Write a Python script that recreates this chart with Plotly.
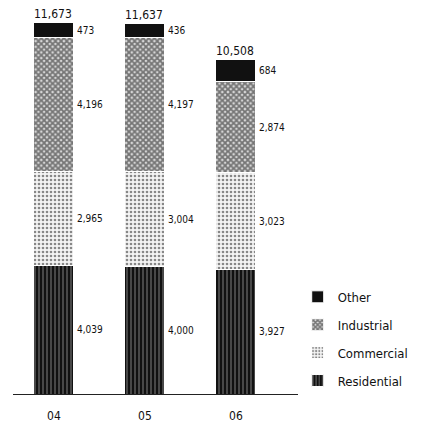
import plotly.graph_objects as go

# Sales by sector, years 04-06
years = ["04", "05", "06"]
residential = [4039, 4000, 3927]
commercial = [2965, 3004, 3023]
industrial = [4196, 4197, 2874]
other = [473, 436, 684]
totals = [11673, 11637, 10508]

FONT = "DejaVu Sans Condensed, Liberation Sans Narrow, Arial Narrow, sans-serif"
BAR_W = 0.44
xs = list(range(len(years)))

# (name, values, marker, legend rank) - stacked bottom to top, legend top to bottom
series = [
    ("Residential", residential,
     dict(color="#1a1a1a", pattern=dict(shape="|", fgcolor="#c8c8c8", bgcolor="#111111", size=4, solidity=0.3)), 4),
    ("Commercial", commercial,
     dict(color="#f0f0f0", pattern=dict(shape=".", fgcolor="#1a1a1a", bgcolor="#f4f4f4", size=4, solidity=0.35)), 3),
    ("Industrial", industrial,
     dict(color="#777777", pattern=dict(shape="x", fgcolor="#111111", bgcolor="#d8d8d8", size=4, solidity=0.7)), 2),
    ("Other", other,
     dict(color="#111111"), 1),
]

fig = go.Figure()
for name, vals, mk, rank in series:
    fig.add_trace(go.Bar(
        x=xs, y=vals, name=name, width=BAR_W, legendgroup=name, legendrank=rank,
        marker=dict(line=dict(color="white", width=1), **mk),
        hoverinfo="skip",
    ))

annotations = []
base = [0] * len(years)
for name, vals, mk, rank in series:
    for i, v in enumerate(vals):
        annotations.append(dict(
            x=xs[i] + BAR_W / 2, y=base[i] + v / 2, xref="x", yref="y",
            text=f"{v:,}", showarrow=False, xanchor="left", yanchor="middle",
            xshift=1, font=dict(family=FONT, size=10, color="#111"),
        ))
        base[i] += v

for i, t in enumerate(totals):
    annotations.append(dict(
        x=xs[i] - BAR_W / 2, y=t, xref="x", yref="y",
        text=f"{t:,}", showarrow=False, xanchor="left", yanchor="bottom",
        xshift=-2, yshift=0, font=dict(family=FONT, size=12, color="#111"),
    ))

fig.update_layout(
    width=447, height=424,
    margin=dict(l=13, r=147, t=10, b=30, autoexpand=False),
    barmode="stack",
    plot_bgcolor="white", paper_bgcolor="white",
    font=dict(family=FONT, color="#111"),
    showlegend=True,
    legend=dict(
        x=0.992, y=0.292, xanchor="left", yanchor="top",
        traceorder="grouped", tracegroupgap=8,
        font=dict(family=FONT, size=13, color="#111"),
        itemwidth=30,
    ),
    xaxis=dict(
        range=[-0.45, 2.704], tickvals=xs, ticktext=years,
        showline=True, linecolor="#222", linewidth=1,
        ticks="outside", ticklen=11, tickcolor="rgba(0,0,0,0)",
        showgrid=False, zeroline=False, automargin=False,
        tickfont=dict(family=FONT, size=12, color="#111"),
    ),
    yaxis=dict(range=[0, 12075], visible=False, showgrid=False, zeroline=False,
               automargin=False),
    annotations=annotations,
)

fig.write_html("out.html")
